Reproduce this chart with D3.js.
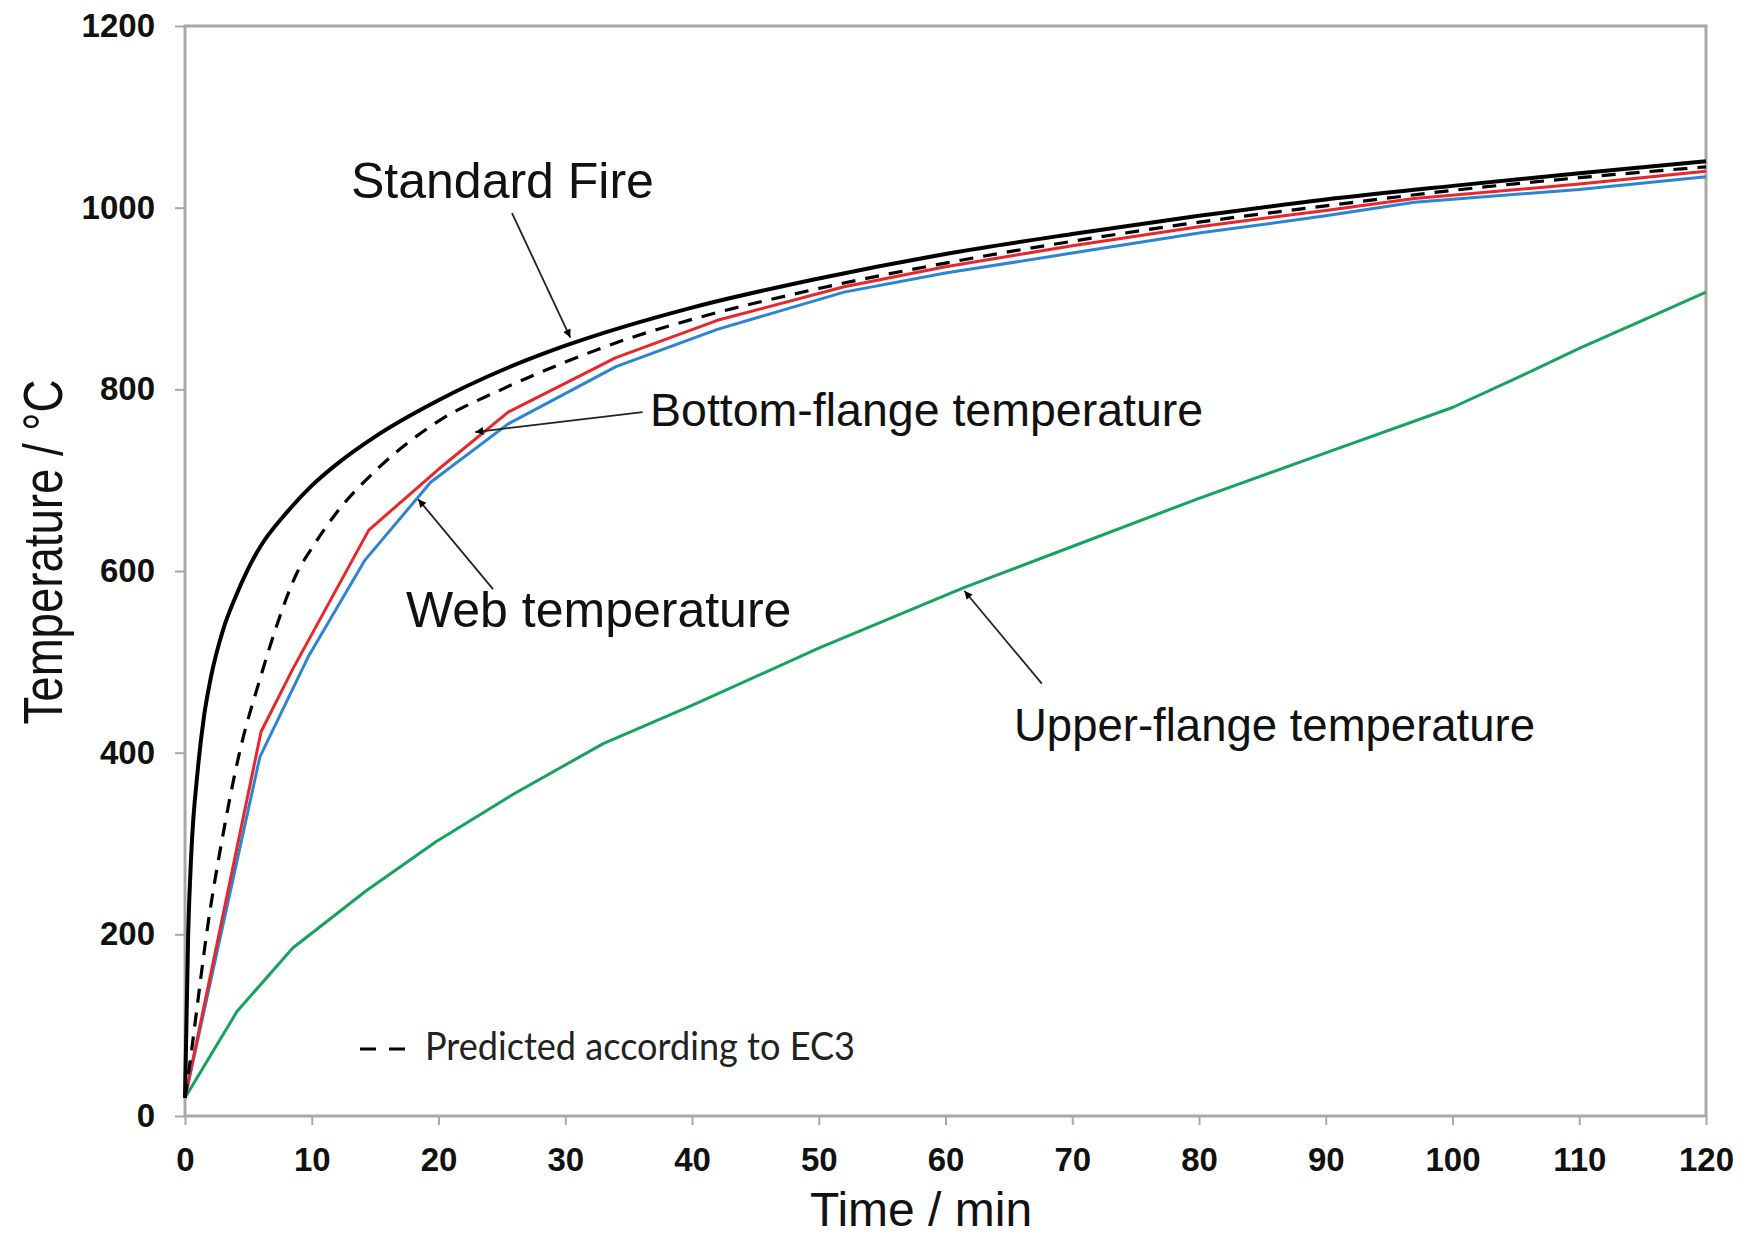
<!DOCTYPE html>
<html>
<head>
<meta charset="utf-8">
<script src="https://cdn.jsdelivr.net/npm/d3@7"></script>
<style>
  html, body { margin: 0; padding: 0; background: #ffffff; }
  svg { display: block; }
</style>
</head>
<body>
<svg id="chart" width="1753" height="1241"></svg>
<script>
// ---------------- DATA ----------------
const xTickValues = [0, 10, 20, 30, 40, 50, 60, 70, 80, 90, 100, 110, 120];
const yTickValues = [0, 200, 400, 600, 800, 1000, 1200];

const xTitle = "Time / min";
const yTitle = "Temperature / °C";

// Standard fire curve (min, °C)
const fireTime = [0, 0.25, 0.5, 1, 1.5, 2, 3, 4, 5, 6, 8, 10, 12, 15, 20, 25, 30, 40, 50, 60, 70, 80, 90, 100, 110, 120];
const fireTemp = [20, 200, 290, 380, 440, 480, 535, 572, 603, 628, 664, 694, 718, 748, 788, 821, 848, 890, 922, 949, 971, 991, 1009, 1024, 1038, 1051];

// Predicted according to EC3 (dashed)
const ec3Time = [0, 0.5, 1, 1.7, 3, 4.3, 6, 7, 8, 8.8, 10, 12, 15, 20, 25, 30, 35, 40, 50, 60, 70, 80, 90, 100, 110, 120];
const ec3Temp = [20, 70, 125, 200, 310, 400, 485, 530, 570, 597, 625, 665, 710, 765, 800, 830, 856, 877, 911, 939, 963, 984, 1002, 1019, 1033, 1045];

// Bottom-flange temperature (red)
const bottomTime = [0, 6, 8.5, 14.5, 20, 25.5, 34, 42, 52, 60, 70, 80, 90, 97, 110, 120];
const bottomTemp = [20, 423, 492, 645, 712, 775, 835, 876, 913, 935, 958, 979, 997, 1010, 1026, 1040];

// Web temperature (blue)
const webTime = [0, 5.9, 9.7, 14.2, 19.4, 25.5, 34, 42, 52, 60, 70, 80, 90, 97, 110, 120];
const webTemp = [20, 395, 505, 612, 698, 762, 825, 866, 907, 928, 950, 972, 991, 1006, 1020, 1034];

// Upper-flange temperature (green)
const upperTime = [0, 4.1, 8.5, 14.3, 19.8, 26, 33, 40, 50, 61.5, 70, 80, 90, 100, 105, 110, 115, 120];
const upperTemp = [20, 115, 185, 248, 302, 355, 410, 452, 515, 582, 627, 680, 730, 780, 812, 845, 876, 907];

const annotationLabels = ["Standard Fire", "Bottom-flange temperature", "Web temperature", "Upper-flange temperature"];
const legendLabel = "Predicted according to EC3";

// ---------------- DRAW ----------------
const svg = d3.select("#chart");
const W = 1753, H = 1241;
const plot = { left: 185, right: 1706, top: 26, bottom: 1116 };

const x = d3.scaleLinear().domain([0, 120]).range([plot.left, plot.right]);
const y = d3.scaleLinear().domain([0, 1200]).range([plot.bottom, plot.top]);

svg.append("rect").attr("width", W).attr("height", H).attr("fill", "#ffffff");

const axisGray = "#a8a8a8";
const tickFont = "'Liberation Sans', Arial, Helvetica, sans-serif";

// Axes
const yAxis = svg.append("g")
  .attr("transform", `translate(${plot.left},0)`)
  .call(d3.axisLeft(y).tickValues(yTickValues).tickSize(10).tickSizeOuter(0).tickPadding(20).tickFormat(d3.format("d")));
const xAxis = svg.append("g")
  .attr("transform", `translate(0,${plot.bottom})`)
  .call(d3.axisBottom(x).tickValues(xTickValues).tickSize(9).tickSizeOuter(0).tickPadding(23).tickFormat(d3.format("d")));

[xAxis, yAxis].forEach(g => {
  g.select(".domain").remove();
  g.selectAll(".tick line").attr("stroke", axisGray).attr("stroke-width", 2);
  g.selectAll(".tick text")
    .attr("fill", "#111")
    .style("font-family", tickFont)
    .style("font-weight", "bold")
    .style("font-size", "33px");
});

// Plot frame
svg.append("rect")
  .attr("x", plot.left).attr("y", plot.top)
  .attr("width", plot.right - plot.left).attr("height", plot.bottom - plot.top)
  .attr("fill", "none").attr("stroke", axisGray).attr("stroke-width", 3);

// Series
function toPoints(ts, vs) { return ts.map((t, i) => ({ t, v: vs[i] })); }
const smooth = d3.line().x(d => x(d.t)).y(d => y(d.v)).curve(d3.curveMonotoneX);
const poly = d3.line().x(d => x(d.t)).y(d => y(d.v));

const series = [
  { pts: toPoints(upperTime, upperTemp), color: "#17a35e", width: 3, gen: poly },
  { pts: toPoints(webTime, webTemp), color: "#2d84d4", width: 3, gen: poly },
  { pts: toPoints(bottomTime, bottomTemp), color: "#e8262b", width: 3, gen: poly },
  { pts: toPoints(ec3Time, ec3Temp), color: "#000000", width: 3.2, gen: smooth, dash: "14,10" },
  { pts: toPoints(fireTime, fireTemp), color: "#000000", width: 4, gen: smooth }
];

series.forEach(s => {
  svg.append("path")
    .attr("d", s.gen(s.pts))
    .attr("fill", "none")
    .attr("stroke", s.color)
    .attr("stroke-width", s.width)
    .attr("stroke-linejoin", "round")
    .attr("stroke-dasharray", s.dash || null);
});

// Arrowhead marker
svg.append("defs").append("marker")
  .attr("id", "arrow")
  .attr("viewBox", "0 0 10 10")
  .attr("refX", 10).attr("refY", 5)
  .attr("markerWidth", 11).attr("markerHeight", 8)
  .attr("markerUnits", "userSpaceOnUse")
  .attr("orient", "auto")
  .append("path").attr("d", "M0,0 L10,5 L0,10 Z").attr("fill", "#000");

// Annotations: arrows in data units (start -> tip), labels in pixels
const arrows = [
  { from: [25.8, 994], to: [30.4, 857] },
  { from: [36.1, 775], to: [22.9, 753] },
  { from: [24.3, 580], to: [18.4, 679] },
  { from: [67.6, 476], to: [61.5, 578] }
];
arrows.forEach(a => {
  svg.append("line")
    .attr("x1", x(a.from[0])).attr("y1", y(a.from[1]))
    .attr("x2", x(a.to[0])).attr("y2", y(a.to[1]))
    .attr("stroke", "#222").attr("stroke-width", 1.8)
    .attr("marker-end", "url(#arrow)");
});

const labelLayout = [
  { x: 351, y: 198, size: 50 },
  { x: 650, y: 426, size: 46.5 },
  { x: 406, y: 627, size: 50 },
  { x: 1014, y: 741, size: 45.5 }
];
annotationLabels.forEach((txt, i) => {
  const L = labelLayout[i];
  svg.append("text")
    .attr("x", L.x).attr("y", L.y)
    .attr("fill", "#111")
    .style("font-family", tickFont)
    .style("font-size", L.size + "px")
    .text(txt);
});

// Legend (dashed)
svg.append("line")
  .attr("x1", 360).attr("x2", 406).attr("y1", 1049).attr("y2", 1049)
  .attr("stroke", "#000").attr("stroke-width", 3).attr("stroke-dasharray", "16,13");
svg.append("text")
  .attr("x", 425).attr("y", 1060)
  .attr("fill", "#222")
  .attr("textLength", 430).attr("lengthAdjust", "spacingAndGlyphs")
  .style("font-family", "Lato, 'Open Sans', sans-serif")
  .style("font-size", "39px")
  .text(legendLabel);

// Axis titles
svg.append("text")
  .attr("x", 921).attr("y", 1226)
  .attr("text-anchor", "middle")
  .attr("fill", "#111")
  .style("font-family", tickFont)
  .style("font-size", "48px")
  .text(xTitle);

svg.append("text")
  .attr("transform", "translate(62,552) rotate(-90)")
  .attr("text-anchor", "middle")
  .attr("fill", "#111")
  .attr("textLength", 345).attr("lengthAdjust", "spacingAndGlyphs")
  .style("font-family", tickFont)
  .style("font-size", "55px")
  .text(yTitle);
</script>
</body>
</html>
